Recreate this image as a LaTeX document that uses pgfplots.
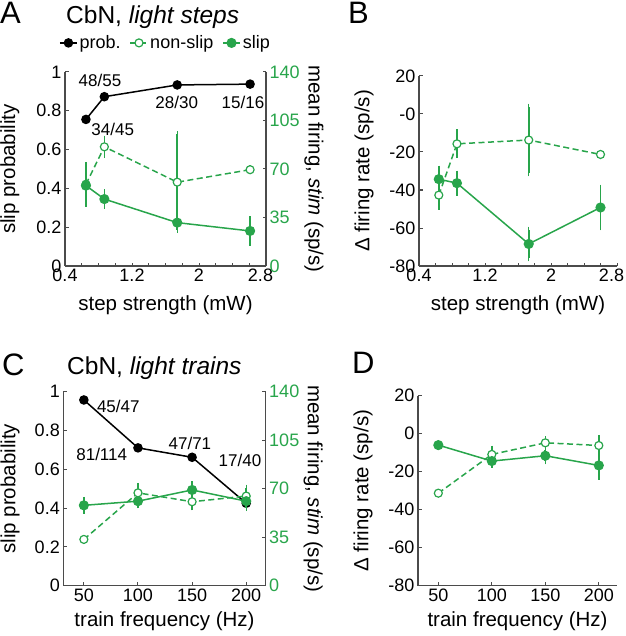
\documentclass[border=0pt]{standalone}
\usepackage{fontspec}
\setmainfont{Liberation Sans}
\usepackage{pgfplots}
\pgfplotsset{compat=1.18}
\definecolor{sgreen}{RGB}{40,165,75}
\definecolor{axgray}{RGB}{75,75,75}
\pgfplotsset{
  base/.style={
    scale only axis,
    /pgf/number format/assume math mode=true,
    tick align=inside,
    major tick length=3.5pt, minor tick length=3.5pt,
    axis line style={axgray, line width=1.1pt, -},
    tick style={axgray, line width=1pt},
    tick label style={font=\fontsize{18}{20}\selectfont, text=black},
    yticklabel style={inner ysep=0pt},
    xticklabel style={inner ysep=3pt},
    label style={font=\fontsize{20.5}{23}\selectfont},
    clip=false,
  },
  probstyle/.style={black, line width=1.5pt, mark=*, mark size=4pt, mark options={solid, fill=black}},
  slipstyle/.style={sgreen, line width=1.5pt, mark=*, mark size=4.3pt, mark options={solid, fill=sgreen}},
  nonslipstyle/.style={sgreen, line width=1.5pt, dash pattern=on 6pt off 3.5pt, mark=*, mark size=4pt, mark options={solid, fill=white, line width=1.2pt}},
  ebar/.style={
    /pgfplots/error bars/y dir=both,
    /pgfplots/error bars/y explicit,
    /pgfplots/error bars/error bar style={draw=sgreen, line width=1.7pt, solid},
    /pgfplots/error bars/error mark options={draw=sgreen, mark size=3pt, line width=1.4pt, solid}},
  legimg/.style={legend image code/.code={\draw[mark repeat=2,mark phase=2,##1] plot coordinates {(0pt,0pt) (8.5pt,0pt) (17pt,0pt)};}},
}
\begin{document}
\begin{tikzpicture}
\useasboundingbox (0,0) rectangle (625pt,-636pt);

% ---------------- Panel A ----------------
\begin{axis}[base, at={(65pt,-266pt)}, anchor=south west, width=201pt, height=194pt,
  xmin=0.4, xmax=2.8, ymin=0, ymax=1,
  axis x line*=bottom, axis y line*=left,
  xtick={0.4,1.2,2,2.8}, minor xtick={0.6,0.8,1.0,1.4,1.6,1.8,2.2,2.4,2.6},
  xticklabels={0.4,1.2,2,\makebox[0pt]{\hspace{-11pt}2.8}},
  ytick={0,0.2,0.4,0.6,0.8,1}, yticklabels={0,0.2,0.4,0.6,0.8,1},
  xlabel={step strength (mW)},
  xlabel style={at={(axis description cs:0.5,-0.227)}, anchor=base},
  ylabel={slip probability},
  ylabel style={at={(axis description cs:-0.274,0.5)}, anchor=center}]
  \addplot[probstyle] coordinates {(0.65,0.7556) (0.87,0.8727) (1.74,0.9333) (2.61,0.9375)};
  \node[font=\fontsize{17}{19}\selectfont] at (axis cs:0.818,0.955) {48/55};
  \node[font=\fontsize{17}{19}\selectfont] at (axis cs:0.97,0.704) {34/45};
  \node[font=\fontsize{17}{19}\selectfont] at (axis cs:1.734,0.843) {28/30};
  \node[font=\fontsize{17}{19}\selectfont] at (axis cs:2.525,0.843) {15/16};
\end{axis}
\begin{axis}[base, at={(65pt,-266pt)}, anchor=south west, width=201pt, height=194pt,
  xmin=0.4, xmax=2.8, ymin=0, ymax=140,
  axis x line=none, axis y line*=right,
  ytick={0,35,70,105,140},
  yticklabel style={text=sgreen},
  ylabel={mean firing, \textit{stim} (sp/s)},
  ylabel style={at={(axis description cs:1.239,0.5)}, anchor=center, rotate=180},
  legend columns=3,
  legend style={at={(axis description cs:0.5,1.15)}, anchor=center, draw=none, fill=none,
    font=\fontsize{18}{20}\selectfont, inner sep=0pt,
    nodes={inner sep=2pt},
    /tikz/every even column/.append style={column sep=7pt}},
  ]
  \addlegendimage{probstyle, legimg}
  \addlegendentry{prob.}
  \addplot[nonslipstyle, legimg, ebar] coordinates {(0.65,59) +- (0,14) (0.87,86) +- (0,6) (1.74,60.5) +- (0,34.5) (2.61,69.5) +- (0,1)};
  \addlegendentry{non-slip}
  \addplot[slipstyle, legimg, ebar] coordinates {(0.65,58) +- (0,3.5) (0.87,48.3) +- (0,5) (1.74,31.3) +- (0,5.5) (2.61,25.3) +- (0,8.5)};
  \addlegendentry{slip}
\end{axis}

% ---------------- Panel B ----------------
\begin{axis}[base, at={(419pt,-266pt)}, anchor=south west, width=198pt, height=190pt,
  xmin=0.4, xmax=2.8, ymin=-80, ymax=20,
  axis x line*=bottom, axis y line*=left,
  xtick={0.4,1.2,2,2.8}, minor xtick={0.6,0.8,1.0,1.4,1.6,1.8,2.2,2.4,2.6},
  xticklabels={0.4,1.2,2,\makebox[0pt]{\hspace{-11pt}2.8}},
  ytick={-80,-60,-40,-20,0,20}, yticklabels={-80,-60,-40,-20,-0,20},
  xlabel={step strength (mW)},
  xlabel style={at={(axis description cs:0.5,-0.236)}, anchor=base},
  ylabel={Δ firing rate (sp/s)},
  ylabel style={at={(axis description cs:-0.278,0.5)}, anchor=center}]
  \addplot[nonslipstyle, ebar] coordinates {(0.64,-42.7) +- (0,6) (0.86,-15.7) +- (0,6) (1.73,-13.7) +- (0,17.6) (2.6,-21.3) +- (0,1)};
  \addplot[slipstyle, ebar] coordinates {(0.64,-34.3) +- (0,5.6) (0.86,-36.4) +- (0,5) (1.73,-68.4) +- (0,7.6) (2.6,-49.2) +- (0,10.5)};
\end{axis}

% ---------------- Panel C ----------------
\begin{axis}[base, at={(63.3pt,-585.7pt)}, anchor=south west, width=202.4pt, height=194pt,
  xmin=31, xmax=218, ymin=0, ymax=1,
  axis x line*=bottom, axis y line*=left,
  xtick={50,100,150,200},
  ytick={0,0.2,0.4,0.6,0.8,1}, yticklabels={0,0.2,0.4,0.6,0.8,1},
  xlabel={train frequency (Hz)},
  xlabel style={at={(axis description cs:0.5,-0.208)}, anchor=base},
  ylabel={slip probability},
  ylabel style={at={(axis description cs:-0.263,0.5)}, anchor=center}]
  \addplot[probstyle] coordinates {(50,0.9574) (100,0.7105) (150,0.662) (200,0.425)};
  \node[font=\fontsize{17}{19}\selectfont] at (axis cs:81.8,0.926) {45/47};
  \node[font=\fontsize{17}{19}\selectfont] at (axis cs:66.5,0.679) {81/114};
  \node[font=\fontsize{17}{19}\selectfont] at (axis cs:148,0.734) {47/71};
  \node[font=\fontsize{17}{19}\selectfont] at (axis cs:194.2,0.648) {17/40};
\end{axis}
\begin{axis}[base, at={(63.3pt,-585.7pt)}, anchor=south west, width=202.4pt, height=194pt,
  xmin=31, xmax=218, ymin=0, ymax=140,
  axis x line=none, axis y line*=right,
  ytick={0,35,70,105,140},
  yticklabel style={text=sgreen},
  ylabel={mean firing, \textit{stim} (sp/s)},
  ylabel style={at={(axis description cs:1.235,0.5)}, anchor=center, rotate=180}]
  \addplot[nonslipstyle, ebar] coordinates {(50,33.4) +- (0,1) (100,67) +- (0,5) (150,60.6) +- (0,4) (200,64.7) +- (0,6)};
  \addplot[slipstyle, ebar] coordinates {(50,58) +- (0,4) (100,61) +- (0,3) (150,69.1) +- (0,4) (200,61) +- (0,5)};
\end{axis}

% ---------------- Panel D ----------------
\begin{axis}[base, at={(418pt,-585.7pt)}, anchor=south west, width=199pt, height=190pt,
  xmin=31, xmax=217, ymin=-80, ymax=20,
  axis x line*=bottom, axis y line*=left,
  xtick={50,100,150,200},
  ytick={-80,-60,-40,-20,0,20}, yticklabels={-80,-60,-40,-20,0,20},
  xlabel={train frequency (Hz)},
  xlabel style={at={(axis description cs:0.5,-0.217)}, anchor=base},
  ylabel={Δ firing rate (sp/s)},
  ylabel style={at={(axis description cs:-0.276,0.5)}, anchor=center}]
  \addplot[nonslipstyle, ebar] coordinates {(50,-31.3) +- (0,0.5) (100,-10.9) +- (0,3) (150,-4.8) +- (0,2) (200,-6.2) +- (0,4)};
  \addplot[slipstyle, ebar] coordinates {(50,-6) +- (0,1) (100,-14.4) +- (0,2) (150,-11.6) +- (0,3) (200,-16.7) +- (0,6)};
\end{axis}

% ---------------- Titles and panel letters ----------------
\node[anchor=base west, inner sep=0pt, font=\fontsize{31}{34}\selectfont] at (0pt,-24pt) {A};
\node[anchor=base west, inner sep=0pt, font=\fontsize{24.5}{28}\selectfont] at (66pt,-24pt) {CbN, \textit{light steps}};
\node[anchor=base west, inner sep=0pt, font=\fontsize{31}{34}\selectfont] at (348pt,-24pt) {B};
\node[anchor=base west, inner sep=0pt, font=\fontsize{31}{34}\selectfont] at (2pt,-375pt) {C};
\node[anchor=base west, inner sep=0pt, font=\fontsize{24.5}{28}\selectfont] at (67pt,-374pt) {CbN, \textit{light trains}};
\node[anchor=base west, inner sep=0pt, font=\fontsize{31}{34}\selectfont] at (352pt,-373pt) {D};
\end{tikzpicture}
\end{document}
